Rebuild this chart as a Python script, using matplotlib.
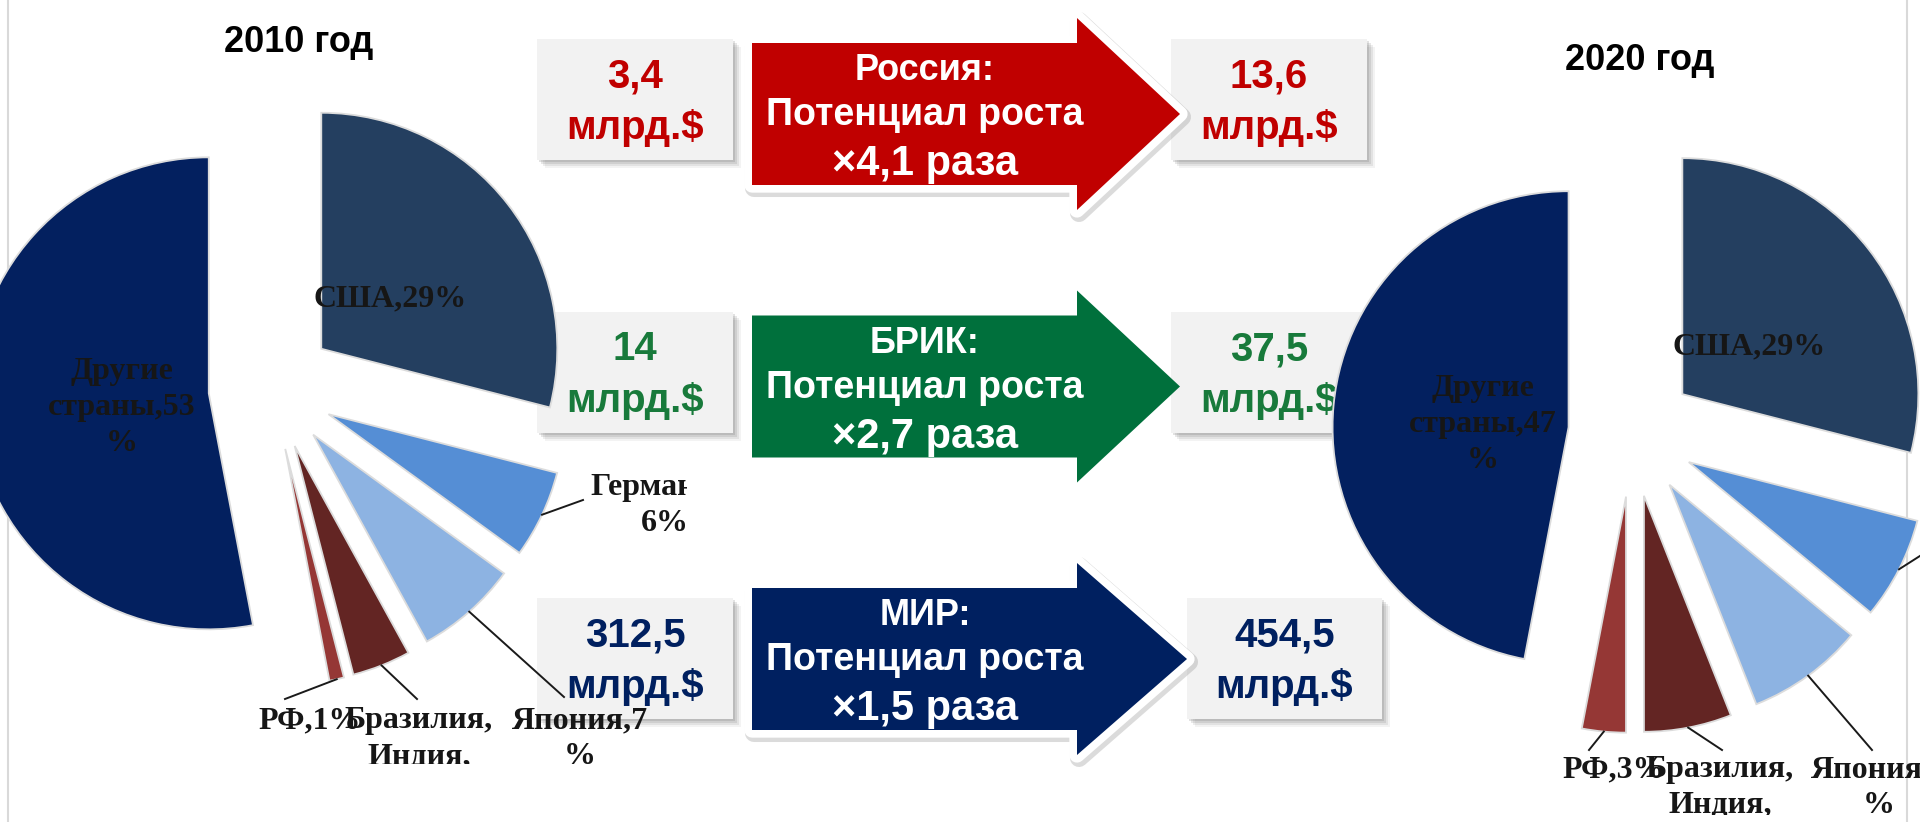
import matplotlib

matplotlib.use("Agg")

import matplotlib.pyplot as plt
import numpy as np
from matplotlib.patches import Polygon, Rectangle

W, H = 1920, 822

# --- data -----------------------------------------------------------------
PIE_NAMES = ["США", "Германия", "Япония", "Бразилия, Индия, Китай", "РФ", "Другие страны"]
SHARE_2010 = [29, 6, 7, 4, 1, 53]
SHARE_2020 = [29, 7, 8, 6, 3, 47]
PIE_COLORS = ["#243f60", "#558ed5", "#8db3e2", "#632523", "#953735", "#03205f"]
# how Excel wrapped each data label
LABEL_FORMATS = [
    "США,{}%",
    "Германия,\n{}%",
    "Япония,{}\n%",
    "Бразилия,\nИндия,\nКитай,{}%",
    "РФ,{}%",
    "Другие\nстраны,{}\n%",
]

GROUPS = ["Россия", "БРИК", "МИР"]
VOLUME_2010 = [3.4, 14, 312.5]
VOLUME_2020 = [13.6, 37.5, 454.5]
GROWTH = ["×4,1", "×2,7", "×1,5"]
GROUP_COLORS = ["#c00000", "#00703c", "#002060"]
TEXT_COLORS = ["#c00000", "#187a3b", "#002060"]

# --- layout (pixels, y from top) ------------------------------------------
PIE_R = 236
SANS = "Liberation Sans"
SERIF = "Liberation Serif"


def px_axes(fig, x0, y0, x1, y1, z):
    ax = fig.add_axes([x0 / W, 1 - y1 / H, (x1 - x0) / W, (y1 - y0) / H], zorder=z)
    ax.patch.set_visible(False)
    return ax


def fmt_num(v):
    return f"{v:g}".replace(".", ",")


def draw_pie(fig, shares, center, box, explode, label_pos, leader_ends):
    ax = px_axes(fig, *box, z=2)
    cx, cy = center
    x0, y0, x1, y1 = box
    wedges, _ = ax.pie(
        shares,
        colors=PIE_COLORS,
        startangle=90,
        counterclock=False,
        explode=[explode] * len(shares),
        wedgeprops={"edgecolor": "#dcdcdc", "linewidth": 1.3},
    )
    ax.set_aspect("auto")
    ax.set_xlim((x0 - cx) / PIE_R, (x1 - cx) / PIE_R)
    ax.set_ylim((cy - y1) / PIE_R, (cy - y0) / PIE_R)

    def to_data(px, py):
        return (px - cx) / PIE_R, (cy - py) / PIE_R

    for i, end in leader_ends.items():
        w = wedges[i]
        ang = np.deg2rad((w.theta1 + w.theta2) / 2)
        sx = w.center[0] + w.r * np.cos(ang)
        sy = w.center[1] + w.r * np.sin(ang)
        ex, ey = to_data(*end)
        ax.plot([sx, ex], [sy, ey], color="#1a1a1a", linewidth=1.4)

    for i, (lx, ly) in enumerate(label_pos):
        lines = LABEL_FORMATS[i].format(shares[i]).split("\n")
        for k, line in enumerate(lines):
            tx, ty = to_data(lx, ly + 36 * k)
            ax.text(tx, ty, line, ha="center", va="baseline", fontsize=23,
                    family=SERIF, weight="bold", color="#161616", clip_on=True)


def draw_box(ax, x0, y0, x1, y1, value, color):
    for off, alpha in [(8, 0.08), (6, 0.12), (4, 0.16), (2, 0.2)]:
        ax.add_patch(Rectangle((x0 + off, y0 + off), x1 - x0, y1 - y0,
                               facecolor="#6f6f6f", edgecolor="none", alpha=alpha))
    ax.add_patch(Rectangle((x0, y0), x1 - x0, y1 - y0, facecolor="#f2f2f2", edgecolor="none"))
    xc = (x0 + x1) / 2
    ax.text(xc, y0 + 48, fmt_num(value), ha="center", va="baseline", fontsize=29,
            family=SANS, weight="bold", color=color)
    ax.text(xc, y0 + 100, "млрд.$", ha="center", va="baseline", fontsize=29,
            family=SANS, weight="bold", color=color)


def draw_arrow(ax, yc, tip, color, group, growth, outline):
    x0, xh, bh, hh = 752, 1077, 71, 96
    pts = [(x0, yc - bh), (xh, yc - bh), (xh, yc - hh), (tip, yc),
           (xh, yc + hh), (xh, yc + bh), (x0, yc + bh)]
    if outline:
        shadow = [(x + 2, y + 3) for x, y in pts]
        ax.add_patch(Polygon(shadow, closed=True, facecolor="#9a9a9a", edgecolor="#9a9a9a",
                             linewidth=13, alpha=0.35, joinstyle="round"))
        ax.add_patch(Polygon(pts, closed=True, facecolor="white", edgecolor="white",
                             linewidth=11, joinstyle="round"))
    ax.add_patch(Polygon(pts, closed=True, facecolor=color, edgecolor="none"))
    lines = [f"{group}:", "Потенциал роста", f"{growth} раза"]
    for dy, size, line in zip([-34, 11, 61], [26, 27, 30], lines):
        ax.text(925, yc + dy, line, ha="center", va="baseline", fontsize=size,
                family=SANS, weight="bold", color="white")


fig = plt.figure(figsize=(W / 100, H / 100), dpi=100)
fig.patch.set_facecolor("white")

bg = px_axes(fig, 0, 0, W, H, z=0)
bg.set_xlim(0, W)
bg.set_ylim(H, 0)
bg.axis("off")

bg.plot([8, 8], [0, H], color="#d9d9d9", linewidth=1.5)
bg.plot([1907, 1907], [0, H], color="#d9d9d9", linewidth=1.5)

bg.text(299, 52, "2010 год", ha="center", va="baseline", fontsize=26,
        family=SANS, weight="bold", color="black")
bg.text(1640, 70, "2020 год", ha="center", va="baseline", fontsize=26,
        family=SANS, weight="bold", color="black")

row_top = [39, 312, 598]
arrow_yc = [114, 386.5, 659]
arrow_tip = [1180, 1180, 1187]
right_x = [(1171, 1367), (1171, 1367), (1187, 1382)]
for i in range(3):
    top = row_top[i]
    draw_box(bg, 537, top, 733, top + 121, VOLUME_2010[i], TEXT_COLORS[i])
    draw_box(bg, right_x[i][0], top, right_x[i][1], top + 121, VOLUME_2020[i], TEXT_COLORS[i])
    draw_arrow(bg, arrow_yc[i], arrow_tip[i], GROUP_COLORS[i], GROUPS[i], GROWTH[i],
               outline=(i != 1))

draw_pie(
    fig, SHARE_2010, center=(271.5, 387.4), box=(0, 0, 687, 764), explode=0.267,
    label_pos=[(390, 306), (665, 495), (580, 728), (419, 728), (310, 728), (122, 379)],
    leader_ends={1: (583, 500), 2: (564, 697), 3: (417, 699), 4: (285, 699)},
)
draw_pie(
    fig, SHARE_2020, center=(1632, 433.2), box=(1300, 0, 1920, 815), explode=0.27,
    label_pos=[(1749, 354), (2010, 530), (1879, 777), (1720, 777), (1614, 777), (1483, 396)],
    leader_ends={1: (1945, 540), 2: (1872, 750), 3: (1722, 750), 4: (1589, 750)},
)

fig.savefig("out.png", dpi=100, facecolor="white")
plt.close(fig)
